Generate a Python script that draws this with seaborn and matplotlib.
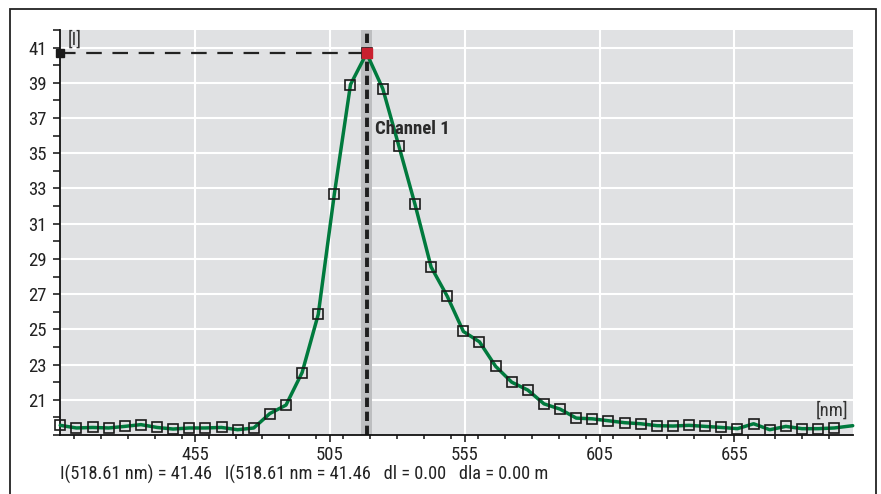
import matplotlib
matplotlib.use("Agg")
import matplotlib.pyplot as plt
import matplotlib.patches as patches
from matplotlib.ticker import MultipleLocator
from matplotlib import font_manager
import seaborn as sns
import pandas as pd

# spectrum (wavelength in nm, intensity)
wavelength = [405.00, 410.98, 416.96, 422.94, 428.92, 434.90, 440.88, 446.86, 452.84, 458.82,
              464.80, 470.78, 476.76, 482.74, 488.72, 494.70, 500.68, 506.66, 512.64, 518.61,
              524.60, 530.58, 536.56, 542.54, 548.52, 554.50, 560.48, 566.46, 572.44, 578.42,
              584.40, 590.38, 596.36, 602.34, 608.32, 614.30, 620.28, 626.26, 632.24, 638.22,
              644.20, 650.18, 656.16, 662.14, 668.12, 674.10, 680.08, 686.06, 692.04, 698.90]
intensity = [19.55, 19.40, 19.43, 19.40, 19.49, 19.59, 19.43, 19.34, 19.40, 19.40,
             19.43, 19.30, 19.40, 20.22, 20.70, 22.55, 25.85, 32.70, 38.90, 40.68,
             38.67, 35.41, 32.10, 28.54, 26.88, 24.88, 24.29, 22.90, 22.00, 21.55,
             20.77, 20.47, 19.96, 19.92, 19.81, 19.70, 19.64, 19.53, 19.51, 19.55,
             19.49, 19.43, 19.36, 19.64, 19.30, 19.49, 19.36, 19.36, 19.40, 19.53]

peak_x = 518.61
peak_y = 40.68
band = (516.7, 520.5)
x_ticks = [455, 505, 555, 605, 655]
y_ticks = [21, 23, 25, 27, 29, 31, 33, 35, 37, 39, 41]
readout = "I(518.61 nm) = 41.46   I(518.61 nm = 41.46   dl = 0.00   dla = 0.00 m"

sns.set_theme(style="darkgrid", rc={"axes.facecolor": "#e0e1e3", "grid.color": "white"})

# pick a narrow face if one is installed
installed = {f.name for f in font_manager.fontManager.ttflist}
narrow = [n for n in ["Liberation Sans Narrow", "Roboto Condensed", "DejaVu Sans Condensed",
                      "Open Sans Condensed", "Roboto"] if n in installed]
plt.rcParams["font.family"] = narrow + ["DejaVu Sans"]

df = pd.DataFrame({"nm": wavelength, "I": intensity})

fig = plt.figure(figsize=(8.81, 4.94), dpi=100)
ax = fig.add_axes([0.0684, 0.1194, 0.8995, 0.8199])

ax.axvspan(band[0], band[1], color="#bdbec0", lw=0, zorder=1)

sns.lineplot(data=df, x="nm", y="I", ax=ax, color="#007a3d", lw=2.5,
             marker="s", markersize=6.5, markerfacecolor="none",
             markeredgecolor="#1a1a1a", markeredgewidth=1.2,
             markevery=slice(0, len(df) - 1), clip_on=False, zorder=3)

# cursor lines
ax.plot([wavelength[0], peak_x], [peak_y, peak_y], color="#222222", lw=1.6,
        linestyle=(0, (7, 4.8)), zorder=2)
ax.axvline(peak_x, color="#1e1e1e", lw=2.8, linestyle=(0, (2.4, 1.2)), zorder=2)
ax.plot([wavelength[0]], [peak_y], marker="s", ms=6, color="#1a1a1a", clip_on=False, zorder=5)
ax.plot([peak_x], [peak_y], marker="s", ms=6.5, color="#c9202f", zorder=5)

ax.set_xlim(405, 698.9)
ax.set_ylim(19, 42)
ax.xaxis.set_major_locator(plt.FixedLocator(x_ticks))
ax.xaxis.set_minor_locator(MultipleLocator(10))
ax.yaxis.set_major_locator(plt.FixedLocator(y_ticks))
ax.yaxis.set_minor_locator(MultipleLocator(1))
ax.grid(which="major", color="white", lw=1.5)
ax.grid(which="minor", visible=False)
ax.set_xlabel("")
ax.set_ylabel("")

for side in ["top", "right"]:
    ax.spines[side].set_visible(False)
for side in ["left", "bottom"]:
    ax.spines[side].set_visible(True)
    ax.spines[side].set_color("#111111")
    ax.spines[side].set_linewidth(1.3)

ax.tick_params(axis="both", which="both", direction="out", color="#111111",
               width=1.1, labelsize=13.5, labelcolor="#222222")
ax.tick_params(axis="x", which="major", length=5, bottom=True, pad=3)
ax.tick_params(axis="x", which="minor", length=2.6, bottom=True)
ax.tick_params(axis="y", which="both", length=5, left=True, pad=4.5)

ax.text(0.009, 1.0, "[I]", transform=ax.transAxes, ha="left", va="top",
        fontsize=13.5, color="#333333")
ax.text(521.9, 36.4, "Channel 1", ha="left", va="center", fontsize=13.5,
        fontweight="bold", color="#2a2a2a", zorder=4)
ax.text(697.2, 20.41, "[nm]", ha="right", va="center", fontsize=13.5, color="#333333")

fig.text(0.068, 0.0405, readout, ha="left", va="center", fontsize=13.2, color="#222222")

frame = patches.Rectangle((10 / 881, -0.02), 866 / 881, 0.9818 + 0.02,
                          transform=fig.transFigure, fill=False,
                          edgecolor="#222222", lw=1.3)
fig.patches.append(frame)

fig.savefig("out.png", dpi=100, facecolor="white")
